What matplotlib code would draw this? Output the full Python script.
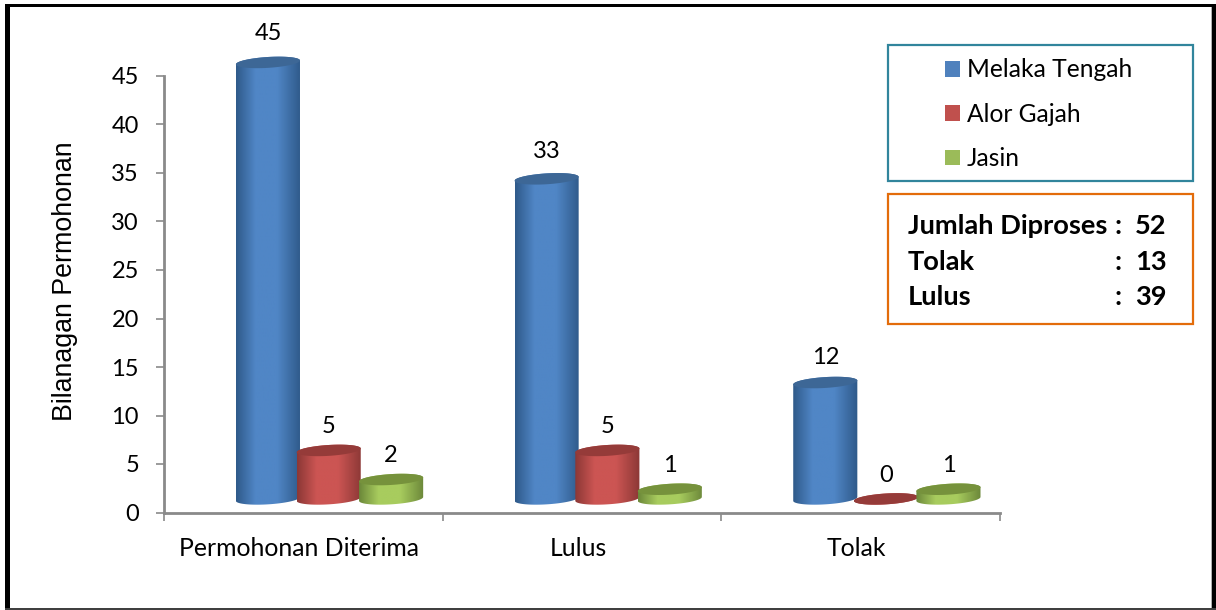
import matplotlib
matplotlib.use("Agg")
import matplotlib.pyplot as plt
import numpy as np
from matplotlib.colors import LinearSegmentedColormap
from matplotlib.patches import Patch, Polygon, Rectangle
from matplotlib.transforms import ScaledTranslation

W, H = 1216, 610

categories = ["Permohonan Diterima", "Lulus", "Tolak"]
melaka_tengah = [45, 33, 12]
alor_gajah = [5, 5, 0]
jasin = [2, 1, 1]
y_ticks = [0, 5, 10, 15, 20, 25, 30, 35, 40, 45]
y_label = "Bilanagan Permohonan"
summary_labels = ["Jumlah Diproses", "Tolak", "Lulus"]
summary_values = [52, 13, 39]

plt.rcParams["font.family"] = ["Lato", "DejaVu Sans"]


def fx(px):
    return px / W


def fy(px):
    return 1 - px / H


def px_rect(fig, x0, y0, x1, y1, **kw):
    r = Rectangle((fx(x0), fy(y1)), (x1 - x0) / W, (y1 - y0) / H,
                  transform=fig.transFigure, **kw)
    fig.add_artist(r)


fig = plt.figure(figsize=(W / 100, H / 100), dpi=100, facecolor="white")
ax = fig.add_axes([fx(164), fy(512.5), fx(1000) - fx(164), fy(76) - fy(512.5)])
ax.patch.set_alpha(0)

# outer frame
px_rect(fig, 5, 4, 10, 610, fc="black", ec="none")
px_rect(fig, 5, 4, 1216, 7, fc="black", ec="none")
px_rect(fig, 1212, 4, 1216, 610, fc="black", ec="none")
px_rect(fig, 5, 608, 1216, 610, fc="#404040", ec="none")
px_rect(fig, 1211, 7, 1212, 608, fc="#b0b0b0", ec="none")

# cylinders
series = [
    ("Melaka Tengah", melaka_tengah, -0.127, "#4f81bd", "#2f5a8a", "#5086c6", "#3d6796"),
    ("Alor Gajah", alor_gajah, 0.091, "#c0504d", "#8c3836", "#cc5553", "#953b39"),
    ("Jasin", jasin, 0.315, "#9bbb59", "#6c883a", "#a8cc5e", "#76923c"),
]
half_w = 0.115
base = 1.4
ell_h = 0.56
tilt = 0.2
t = np.linspace(0, 2 * np.pi, 121)
bar_x = np.arange(len(categories))

for name, values, off, col, dark, light, top_col in series:
    cmap = LinearSegmentedColormap.from_list(name, [dark, light, light, dark])
    grad = np.array([np.interp(np.linspace(0, 1, 128), [0, 0.45, 1], [0, 0.5, 1])])
    for cat_x, v in zip(bar_x, values):
        cx = cat_x + off
        top = base + v
        ex = half_w * np.cos(t)
        ey = ell_h * np.sin(t) + tilt * np.cos(t)
        lower = t[60:]
        upper = t[:61]
        body_x = np.r_[cx + half_w * np.cos(lower), cx + half_w * np.cos(upper)]
        body_y = np.r_[base + ell_h * np.sin(lower) + tilt * np.cos(lower),
                       top + ell_h * np.sin(upper) + tilt * np.cos(upper)]
        clip = Polygon(np.c_[body_x, body_y], closed=True, transform=ax.transData)
        im = ax.imshow(grad, extent=(cx - half_w, cx + half_w, base - 1, top + 1),
                       aspect="auto", cmap=cmap, vmin=0, vmax=1, zorder=3,
                       interpolation="bilinear")
        im.set_clip_path(clip)
        im.set_clip_box(fig.bbox)
        ax.fill(cx + ex, top + ey, color=top_col, lw=0, zorder=3, clip_on=False)
        ax.annotate(str(v), (cx, top), xytext=(0, 17 + v * 0.08),
                    textcoords="offset points", ha="center", va="center",
                    fontsize=17, color="black", annotation_clip=False)

ax.set_xlim(-0.5, 2.5)
ax.set_ylim(0, 45)
ax.set_yticks(y_ticks)
ax.set_xticks([-0.5, 0.5, 1.5, 2.5])
ax.set_xticklabels([])
ax.set_xticks(bar_x, categories, minor=True)
for s in ("top", "right"):
    ax.spines[s].set_visible(False)
for s in ("left", "bottom"):
    ax.spines[s].set_color("#8a8a8a")
    ax.spines[s].set_linewidth(2)
ax.tick_params(axis="y", length=6, width=1.2, color="#8a8a8a", labelsize=17, pad=12)
ax.tick_params(axis="x", which="major", length=6, width=1.2, color="#8a8a8a")
ax.tick_params(axis="x", which="minor", length=0, labelsize=17.8, pad=18)
# category labels sit slightly left of the group centre
shift = ScaledTranslation(-4 / 100, 0, fig.dpi_scale_trans)
for lab in ax.get_xticklabels(minor=True):
    lab.set_transform(lab.get_transform() + shift)
ax.set_ylabel(y_label, family="Liberation Sans", fontsize=19.3)
ax.yaxis.set_label_coords(-(164 - 78) / 836, 0.5 + 13.5 / 436.5)

# legend box
px_rect(fig, 888, 45, 1193, 181, fc="white", ec="#31859c", lw=1.6)
handles = [Patch(fc=s[3], ec="none", label=s[0]) for s in series]
leg = fig.legend(handles=handles, loc="upper left",
                 bbox_to_anchor=(fx(937.6), fy(51)), borderaxespad=0, borderpad=0.3,
                 frameon=False, fontsize=17.7, handlelength=0.61, handleheight=0.61,
                 handletextpad=0.28, labelspacing=0.87)

# summary box
px_rect(fig, 888, 194, 1193, 324, fc="white", ec="#e36c0a", lw=1.6)
for label, value, y in zip(summary_labels, summary_values, [226.5, 261.5, 297.5]):
    fig.text(fx(908), fy(y), label, fontsize=19.6, fontweight="bold", va="center")
    fig.text(fx(1114.5), fy(y), ":", fontsize=19.6, fontweight="bold", va="center")
    fig.text(fx(1135), fy(y), str(value), fontsize=19.6, fontweight="bold", va="center")

fig.savefig("out.png", dpi=100)
